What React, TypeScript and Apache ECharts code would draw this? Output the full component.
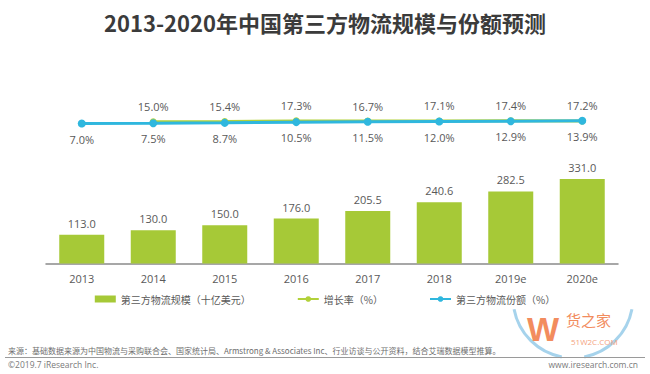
import React, { useEffect, useRef } from "react";
import * as echarts from "echarts";

const years = ["2013", "2014", "2015", "2016", "2017", "2018", "2019e", "2020e"];
const scale = [113.0, 130.0, 150.0, 176.0, 205.5, 240.6, 282.5, 331.0];
const growth = [null, 15.0, 15.4, 17.3, 16.7, 17.1, 17.4, 17.2];
const share = [7.0, 7.5, 8.7, 10.5, 11.5, 12.0, 12.9, 13.9];

const seriesNames = ["第三方物流规模（十亿美元）", "增长率（%）", "第三方物流份额（%）"];
const titleText = "2013-2020年中国第三方物流规模与份额预测";
const sourceText =
  "来源：基础数据来源为中国物流与采购联合会、国家统计局、Armstrong & Associates Inc、行业访谈与公开资料，结合艾瑞数据模型推算。";
const copyrightText = "©2019.7 iResearch Inc.";
const siteText = "www.iresearch.com.cn";

const FONT = "'Open Sans', 'Noto Sans CJK SC', sans-serif";
const CJK = "'Noto Sans CJK SC', 'Open Sans', sans-serif";
const GREEN_BAR = "#a6c937";
const GREEN_LINE = "#b2d13a";
const BLUE = "#2fb7de";
const LABEL = "#595959";

export default function App() {
  const ref = useRef<HTMLDivElement>(null);
  useEffect(() => {
    if (!ref.current) return;
    const chart = echarts.init(ref.current, undefined, { renderer: "svg" });
    chart.setOption({
      animation: false,
      backgroundColor: "#ffffff",
      title: {
        text: titleText,
        left: "center",
        top: 6,
        textStyle: { fontFamily: CJK, fontSize: 22, fontWeight: "bold", color: "#3b3b3b" },
      },
      legend: {
        top: 289,
        left: "center",
        itemGap: 46,
        itemWidth: 21,
        itemHeight: 7,
        textStyle: { fontFamily: CJK, fontSize: 10, color: LABEL },
        data: [
          { name: seriesNames[0], icon: "rect" },
          { name: seriesNames[1] },
          { name: seriesNames[2] },
        ],
      },
      grid: [
        { left: 46, right: 32, top: 100, height: 40 },
        { left: 46, right: 32, top: 161.5, height: 102 },
      ],
      xAxis: [
        {
          type: "category",
          gridIndex: 0,
          data: years,
          show: false,
        },
        {
          type: "category",
          gridIndex: 1,
          data: years,
          axisLine: { lineStyle: { color: "#8a8a8a", width: 1.5 } },
          axisTick: { show: false },
          axisLabel: { fontFamily: FONT, fontSize: 11, color: LABEL, margin: 9 },
        },
      ],
      yAxis: [
        { type: "value", gridIndex: 0, min: -35, max: 67, show: false },
        { type: "value", gridIndex: 0, min: -40, max: 80, show: false },
        { type: "value", gridIndex: 1, min: 0, max: 400, show: false },
      ],
      series: [
        {
          name: seriesNames[0],
          type: "bar",
          xAxisIndex: 1,
          yAxisIndex: 2,
          data: scale,
          barWidth: 45,
          itemStyle: { color: GREEN_BAR },
          label: {
            show: true,
            position: "top",
            distance: 6,
            fontFamily: FONT,
            fontSize: 11,
            color: LABEL,
            formatter: (p: any) => Number(p.value).toFixed(1),
          },
        },
        {
          name: seriesNames[1],
          type: "line",
          xAxisIndex: 0,
          yAxisIndex: 1,
          data: growth,
          symbol: "circle",
          symbolSize: 7,
          lineStyle: { color: GREEN_LINE, width: 3 },
          itemStyle: { color: GREEN_LINE },
          label: {
            show: true,
            position: "top",
            distance: 6,
            fontFamily: FONT,
            fontSize: 11,
            color: LABEL,
            formatter: (p: any) => Number(p.value).toFixed(1) + "%",
          },
        },
        {
          name: seriesNames[2],
          type: "line",
          xAxisIndex: 0,
          yAxisIndex: 0,
          data: share,
          symbol: "circle",
          symbolSize: 8,
          lineStyle: { color: BLUE, width: 3 },
          itemStyle: { color: BLUE },
          label: {
            show: true,
            position: "bottom",
            distance: 6,
            fontFamily: FONT,
            fontSize: 11,
            color: LABEL,
            formatter: (p: any) => Number(p.value).toFixed(1) + "%",
          },
        },
      ],
      graphic: [
        {
          type: "arc",
          shape: { cx: 573, cy: 298, r: 60, startAngle: Math.PI * 0.06, endAngle: Math.PI * 0.44 },
          style: { stroke: "#a6d3ec", lineWidth: 3, fill: null },
          silent: true,
        },
        {
          type: "arc",
          shape: { cx: 573, cy: 298, r: 60, startAngle: Math.PI * 0.56, endAngle: Math.PI * 0.94 },
          style: { stroke: "#a6d3ec", lineWidth: 3, fill: null },
          silent: true,
        },
        {
          type: "text",
          left: 527,
          top: 312,
          style: { text: "W", fontFamily: "'Liberation Sans', sans-serif", fontWeight: "bold", fontSize: 34, fill: "#f28c5e" },
          silent: true,
        },
        {
          type: "text",
          left: 566,
          top: 312,
          style: { text: "货之家", fontFamily: CJK, fontSize: 15, lineHeight: 15, fill: "#f28c5e" },
          silent: true,
        },
        {
          type: "text",
          left: 571,
          top: 337,
          style: { text: "51W2C.COM", fontFamily: FONT, fontSize: 8, lineHeight: 8, fill: "#f4a27e" },
          silent: true,
        },
        {
          type: "text",
          left: 8,
          top: 346,
          style: { text: sourceText, fontFamily: CJK, fontSize: 8, fill: "#6e6e6e" },
        },
        {
          type: "line",
          shape: { x1: 5, y1: 357.5, x2: 645, y2: 357.5 },
          style: { stroke: "#9a9a9a", lineWidth: 1 },
        },
        {
          type: "text",
          left: 8,
          top: 360,
          style: { text: copyrightText, fontFamily: FONT, fontSize: 8.5, fill: "#7a7a7a" },
        },
        {
          type: "text",
          right: 12,
          top: 360,
          style: { text: siteText, fontFamily: FONT, fontSize: 8.5, fill: "#7a7a7a" },
        },
      ],
    });
    return () => chart.dispose();
  }, []);
  return <div ref={ref} style={{ width: 650, height: 374, position: "absolute", left: 0, top: 0 }} />;
}
